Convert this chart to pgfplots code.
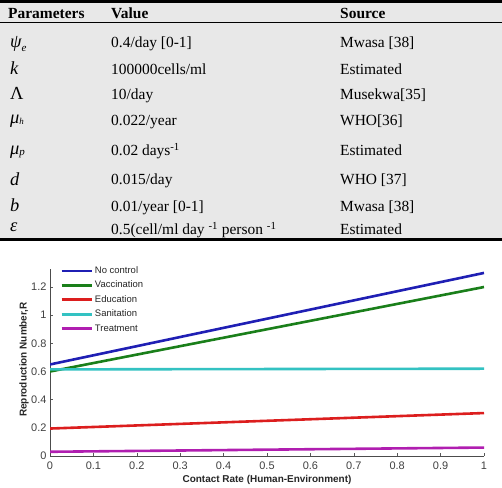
\documentclass[border=0pt]{standalone}
\usepackage{fontspec}
\setmainfont{Liberation Serif}
\newfontfamily\chartfont{Liberation Sans}
\usepackage{pgfplots}
\pgfplotsset{compat=1.18}
\definecolor{tablegray}{HTML}{E8E8E8}
\definecolor{ncblue}{HTML}{1F1FB4}
\definecolor{vacgreen}{HTML}{1A7F1A}
\definecolor{edured}{HTML}{DC1E1E}
\definecolor{sancyan}{HTML}{33C2C2}
\definecolor{trtmag}{HTML}{B01EB0}
\newcommand\tabtxt{\fontsize{15.5}{18}\selectfont}
\newcommand\symtxt{\fontsize{18.5}{20}\selectfont\itshape}
\newcommand\subtxt{\fontsize{11}{12}\selectfont\itshape}
\begin{document}
\begin{tikzpicture}[x=1bp,y=1bp]
\path[use as bounding box] (0,0) rectangle (502,488);
% parameter table: background and rules
\fill[tablegray] (0,488) rectangle (502,249);
\fill[black] (0,488) rectangle (502,485.3);
\fill[black] (0,465.8) rectangle (502,464.8);
\fill[black] (0,249.7) rectangle (502,247);
\begin{scope}[every node/.style={anchor=base west, inner sep=0pt}]
% header
\node[font=\tabtxt\bfseries] at (8,469.3) {Parameters};
\node[font=\tabtxt\bfseries] at (111,469.3) {Value};
\node[font=\tabtxt\bfseries] at (340,469.3) {Source};
% symbols
\node[font=\symtxt] at (10,440) {ψ\raisebox{-3.5bp}{\subtxt e}};
\node[font=\symtxt] at (10,413.5) {k};
\node[font=\fontsize{18.5}{20}\selectfont] at (10,388) {Λ};
\node[font=\symtxt] at (10,364) {μ\raisebox{-0.5bp}{\fontsize{9}{10}\selectfont\itshape h}};
\node[font=\symtxt] at (10,333) {μ\raisebox{-1bp}{\subtxt p}};
\node[font=\symtxt] at (10,302.5) {d};
\node[font=\symtxt] at (10,276) {b};
\node[font=\symtxt] at (10,256) {ε};
% values
\node[font=\tabtxt] at (111,440) {0.4/day [0-1]};
\node[font=\tabtxt] at (111,413.7) {100000cells/ml};
\node[font=\tabtxt] at (111,388) {10/day};
\node[font=\tabtxt] at (111,362.7) {0.022/year};
\node[font=\tabtxt] at (111,332) {0.02 days\textsuperscript{-1}};
\node[font=\tabtxt] at (111,303) {0.015/day};
\node[font=\tabtxt] at (111,276.3) {0.01/year [0-1]};
\node[font=\tabtxt] at (111,253.7) {0.5(cell/ml day \textsuperscript{-1} person \textsuperscript{-1}};
% sources
\node[font=\tabtxt] at (340,440) {Mwasa [38]};
\node[font=\tabtxt] at (340,413.7) {Estimated};
\node[font=\tabtxt] at (340,388) {Musekwa[35]};
\node[font=\tabtxt] at (340,362.7) {WHO[36]};
\node[font=\tabtxt] at (340,332) {Estimated};
\node[font=\tabtxt] at (340,303) {WHO [37]};
\node[font=\tabtxt] at (340,276.3) {Mwasa [38]};
\node[font=\tabtxt] at (340,253.7) {Estimated};
\end{scope}
% reproduction number against contact rate
\begin{axis}[
  at={(50bp,32bp)}, anchor=south west,
  scale only axis, width=434bp, height=187bp,
  xmin=0, xmax=1, ymin=0, ymax=1.328,
  axis lines=left,
  axis line style={-, draw=black!70, line width=0.7bp},
  xtick={0,0.1,0.2,0.3,0.4,0.5,0.6,0.7,0.8,0.9,1},
  ytick={0,0.2,0.4,0.6,0.8,1,1.2},
  tick align=inside, major tick length=3bp,
  tick style={draw=black!65, line width=0.5bp},
  /pgf/number format/assume math mode=true,
  ticklabel style={font=\chartfont\fontsize{11}{12}\selectfont, text=black!75},
  xticklabel style={yshift=-2.5bp},
  xlabel={Contact Rate (Human-Environment)},
  ylabel={Reproduction Number,R},
  label style={font=\chartfont\bfseries\fontsize{10}{12}\selectfont, text=black!85, inner sep=0pt},
  xlabel style={at={(axis description cs:0.5,-0.1)}, anchor=north},
  ylabel style={at={(axis description cs:-0.06,0.516)}, anchor=center},
  legend style={at={(axis description cs:0.023,1.02)}, anchor=north west,
    draw=none, fill=none, inner sep=0pt,
    font=\chartfont\fontsize{9.5}{11}\selectfont, text=black!85,
    nodes={inner sep=1bp, text height=7bp, text depth=2bp},
    row sep=3.4bp, column sep=1bp},
  legend cell align=left,
  legend image code/.code={\draw[#1, line width=2.8bp] (0bp,0bp) -- (30bp,0bp);},
  every axis plot/.append style={line width=2.6bp},
]
\addplot[ncblue] coordinates {(0,0.65) (1,1.30)};
\addlegendentry{No control}
\addplot[vacgreen] coordinates {(0,0.60) (1,1.20)};
\addlegendentry{Vaccination}
\addplot[edured] coordinates {(0,0.195) (1,0.305)};
\addlegendentry{Education}
\addplot[sancyan] coordinates {(0,0.615) (1,0.62)};
\addlegendentry{Sanitation}
\addplot[trtmag] coordinates {(0,0.03) (1,0.06)};
\addlegendentry{Treatment}
\end{axis}
\end{tikzpicture}
\end{document}
